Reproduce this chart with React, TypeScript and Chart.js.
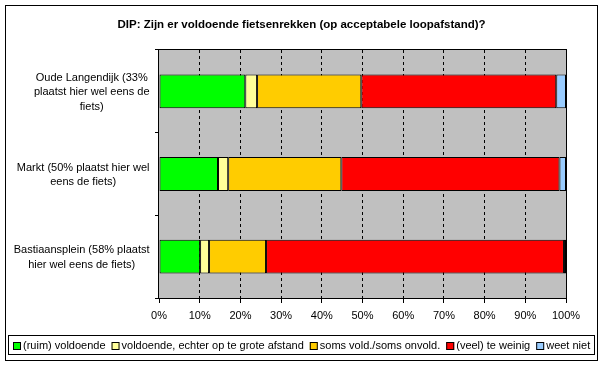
import React, { useEffect, useRef } from "react";
import { Chart, registerables } from "chart.js";

Chart.register(...registerables);

const titleText = "DIP: Zijn er voldoende fietsenrekken (op acceptabele loopafstand)?";
const categories: string[][] = [
  ["Oude Langendijk (33%", "plaatst hier wel eens de", "fiets)"],
  ["Markt (50% plaatst hier wel", "eens de fiets)"],
  ["Bastiaansplein (58% plaatst", "hier wel eens de fiets)"],
];
const seriesNames = [
  "(ruim) voldoende",
  "voldoende, echter op te grote afstand",
  "soms vold./soms onvold.",
  "(veel) te weinig",
  "weet niet",
];
const ruimVoldoende = [21.2, 14.5, 10.1];
const voldoendeVer = [2.9, 2.5, 2.2];
const somsVold = [25.6, 27.8, 14.0];
const teWeinig = [47.9, 53.6, 73.2];
const weetNiet = [2.4, 1.6, 0.5];
const seriesColors = ["#00FF00", "#FFFF99", "#FFCC00", "#FF0000", "#99CCFF"];
const xTicks = [0, 10, 20, 30, 40, 50, 60, 70, 80, 90, 100];

const FONT = "'Liberation Sans', Arial, sans-serif";

const framePlugin = {
  id: "framePlugin",
  beforeDraw(chart: any) {
    const { ctx, chartArea } = chart;
    ctx.save();
    ctx.fillStyle = "#ffffff";
    ctx.fillRect(0, 0, chart.width, chart.height);
    ctx.fillStyle = "#C0C0C0";
    ctx.fillRect(chartArea.left, chartArea.top, chartArea.right - chartArea.left, chartArea.bottom - chartArea.top);
    ctx.restore();
  },
  afterDraw(chart: any) {
    const { ctx, chartArea } = chart;
    ctx.save();
    ctx.strokeStyle = "#000";
    ctx.lineWidth = 1;
    // plot frame
    ctx.strokeRect(
      Math.round(chartArea.left) - 0.5,
      Math.round(chartArea.top) - 0.5,
      Math.round(chartArea.right - chartArea.left) + 1,
      Math.round(chartArea.bottom - chartArea.top) + 1
    );
    // outer frame
    ctx.strokeRect(5.5, 5.5, 592, 355);

    // y category labels
    const y = chart.scales.y;
    ctx.fillStyle = "#000";
    ctx.font = `11px ${FONT}`;
    ctx.textAlign = "center";
    ctx.textBaseline = "middle";
    const lh = 14.5;
    categories.forEach((lines, i) => {
      const cy = y.getPixelForValue(i);
      const widest = Math.max(...lines.map((s) => ctx.measureText(s).width));
      const cx = 149.5 - widest / 2;
      const y0 = cy - ((lines.length - 1) * lh) / 2;
      lines.forEach((s, j) => ctx.fillText(s, cx, y0 + j * lh + 1));
    });

    // legend
    const box = 8;
    const boxGap = 2;
    const itemGap = 6;
    ctx.textAlign = "left";
    const widths = chart.data.datasets.map((d: any) => box + boxGap + ctx.measureText(d.label).width);
    const total = widths.reduce((a: number, b: number) => a + b, 0) + itemGap * (widths.length - 1);
    let x = Math.round(302 - total / 2);
    const cyL = 346;
    ctx.strokeRect(x - 4.5, 335.5, Math.round(total) + 9, 19);
    chart.data.datasets.forEach((d: any, i: number) => {
      ctx.fillStyle = d.backgroundColor;
      ctx.fillRect(x, cyL - 4, box, box);
      ctx.strokeStyle = "#000";
      ctx.strokeRect(x + 0.5, cyL - 3.5, box - 1, box - 1);
      ctx.fillStyle = "#000";
      ctx.fillText(d.label, x + box + boxGap, cyL);
      x += widths[i] + itemGap;
    });
    ctx.restore();
  },
};

export default function App() {
  const ref = useRef<HTMLCanvasElement | null>(null);
  useEffect(() => {
    if (!ref.current) return;
    const data = [ruimVoldoende, voldoendeVer, somsVold, teWeinig, weetNiet];
    const chart = new Chart(ref.current, {
      type: "bar",
      data: {
        labels: categories.map((c) => c.join(" ")),
        datasets: seriesNames.map((name, i) => ({
          label: name,
          data: data[i],
          backgroundColor: seriesColors[i],
          borderColor: "#000",
          borderWidth: 1,
          borderSkipped: false,
          barPercentage: 0.41,
          categoryPercentage: 1,
        })),
      },
      options: {
        indexAxis: "y",
        animation: false,
        responsive: false,
        devicePixelRatio: 1,
        layout: { padding: { top: 18, left: 8, right: 8, bottom: 31 } },
        plugins: {
          title: {
            display: true,
            text: titleText,
            color: "#000",
            font: { family: FONT, size: 11.5, weight: "bold" },
            padding: { top: 0, bottom: 18.2 },
          },
          legend: { display: false },
          tooltip: { enabled: false },
        },
        scales: {
          x: {
            type: "linear",
            stacked: true,
            min: 0,
            max: 100,
            afterBuildTicks: (s: any) => {
              s.ticks = xTicks.map((v) => ({ value: v }));
            },
            afterFit: (s: any) => {
              s.height = 37;
            },
            ticks: {
              color: "#000",
              font: { family: FONT, size: 11 },
              padding: 6,
              maxRotation: 0,
              callback: (v: any) => v + "%",
            },
            grid: {
              color: (c: any) => (c.tick && (c.tick.value === 0 || c.tick.value === 100) ? "rgba(0,0,0,0)" : "#000"),
              tickColor: "#000",
              tickLength: 5,
              lineWidth: 1,
            },
            border: { display: false, dash: [3, 3] },
          },
          y: {
            type: "category",
            stacked: true,
            afterFit: (s: any) => {
              s.width = 151;
            },
            ticks: { display: false },
            grid: {
              drawOnChartArea: false,
              tickColor: "#000",
              tickLength: 4,
              offset: true,
            },
            border: { display: false },
          },
          yr: {
            type: "linear",
            position: "right",
            display: true,
            afterFit: (s: any) => {
              s.width = 29;
            },
            ticks: { display: false },
            grid: { display: false },
            border: { display: false },
          },
        },
      },
      plugins: [framePlugin],
    } as any);
    return () => chart.destroy();
  }, []);
  return (
    <div style={{ position: "absolute", left: 0, top: 0, width: 603, height: 366 }}>
      <canvas ref={ref} width={603} height={366} style={{ display: "block" }} />
    </div>
  );
}
